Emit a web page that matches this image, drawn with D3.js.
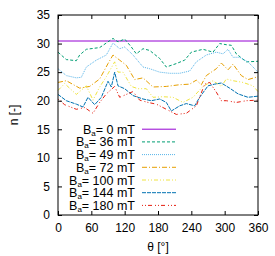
<!DOCTYPE html>
<html>
<head>
<meta charset="utf-8">
<script src="https://cdn.jsdelivr.net/npm/d3@7"></script>
<style>
  body { margin: 0; background: #fff; }
  text { font-family: "Liberation Sans", Arial, sans-serif; fill: #000; }
</style>
</head>
<body>
<div id="chart"></div>
<script>
"use strict";
// series values as [theta, n] pairs
const fields = [0, 36, 49, 72, 100, 144, 180];
const s0 = [[0, 30.45], [360, 30.45]];
const s36 = [[0, 28.5], [15, 27.2], [33, 27], [39, 28], [51, 29], [75, 29.3], [87, 30.1], [99, 30.9], [108, 30.3], [120, 30.8], [132, 29.4], [141, 28.2], [153, 29.1], [165, 28.8], [183, 27.4], [195, 25.9], [213, 26.5], [228, 27.1], [240, 28.5], [261, 29], [279, 28.5], [291, 30], [303, 29.8], [312, 29.7], [321, 28.2], [339, 26.8], [360, 26.9]];
const s49 = [[0, 25.6], [15, 24.4], [33, 24], [42, 24.1], [51, 25.9], [69, 27.1], [87, 28], [99, 30.1], [111, 29.1], [120, 29.4], [135, 28], [153, 25.9], [165, 25.6], [183, 25], [201, 24.8], [219, 24.8], [237, 25.2], [249, 26.8], [267, 28], [285, 28.5], [297, 28.2], [306, 29], [315, 27.6], [327, 27.6], [342, 26.8], [360, 25]];
const s72 = [[0, 23.2], [15, 23.5], [39, 22.2], [57, 22.5], [75, 23.8], [90, 26.5], [99, 28], [111, 27.1], [123, 26.2], [138, 23.7], [153, 24], [171, 22.4], [195, 22.5], [219, 22.8], [237, 22.9], [249, 23.6], [258, 22.8], [267, 24.4], [285, 25.6], [294, 26.6], [306, 25.4], [315, 26.4], [330, 24.4], [342, 23.7], [360, 24.2]];
const s100 = [[0, 21.8], [12, 23], [33, 21.1], [51, 22.6], [63, 20.1], [75, 22.4], [87, 24.2], [102, 26.8], [108, 25], [117, 25], [132, 22.5], [144, 22.1], [159, 22.1], [171, 20.6], [189, 20.7], [207, 20.6], [225, 19.7], [243, 20.6], [261, 22.5], [279, 23.5], [294, 22.5], [303, 23.8], [315, 23.5], [333, 23.2], [351, 22.6], [360, 21.6]];
const s144 = [[0, 21.1], [15, 20], [33, 19.4], [45, 18.9], [54, 20.6], [66, 19.3], [78, 20.6], [90, 23.4], [96, 22.4], [102, 25], [108, 22.6], [120, 22.1], [135, 20.9], [153, 20.3], [168, 20], [183, 20.3], [195, 19.7], [204, 18.2], [219, 19.1], [231, 19.5], [246, 19.1], [255, 20.6], [270, 22.6], [282, 22.9], [294, 23.1], [309, 22.2], [324, 21.2], [342, 20.6], [360, 20.8]];
const s180 = [[0, 20.3], [12, 19.3], [33, 18.5], [48, 18.8], [63, 17.8], [75, 19.7], [87, 21.2], [102, 22.5], [111, 20.6], [123, 21.1], [135, 21.6], [147, 20.1], [162, 19.7], [177, 19.4], [195, 18.5], [213, 17.6], [231, 17.8], [249, 19.1], [264, 22.9], [273, 23.2], [285, 21.5], [294, 20], [303, 20], [321, 19.7], [339, 20], [360, 20.1]];
const xTicks = [0, 60, 120, 180, 240, 300, 360];
const yTicks = [0, 5, 10, 15, 20, 25, 30, 35];

const series = [s0, s36, s49, s72, s100, s144, s180];
const colors = ["#9400d3", "#009e73", "#56b4e9", "#e69f00", "#f0e442", "#0072b2", "#e51e10"];
const dashes = [null, "3,2", "1,1", "5,2,1,2", "4,2,1,2,1,2", "4,1", "1,2,1,2,4,3"];

const width = 275, height = 256;
const margin = { top: 15, right: 17, bottom: 41, left: 58 };
const plotW = width - margin.left - margin.right;
const plotH = height - margin.top - margin.bottom;

const svg = d3.select("#chart").append("svg")
    .attr("width", width)
    .attr("height", height);

const x = d3.scaleLinear().domain([0, 360]).range([margin.left, margin.left + plotW]);
const y = d3.scaleLinear().domain([0, 35]).range([margin.top + plotH, margin.top]);

const plot = svg.append("g");

// lines
const line = d3.line().x(d => x(d[0])).y(d => y(d[1]));
plot.selectAll("path.series")
    .data(series)
    .enter()
    .append("path")
    .attr("class", "series")
    .attr("d", line)
    .attr("fill", "none")
    .attr("stroke", (d, i) => colors[i])
    .attr("stroke-width", 1)
    .attr("stroke-dasharray", (d, i) => dashes[i]);

// axes, ticks drawn inward on all four sides
const tickLen = 4;
svg.append("g")
    .attr("transform", `translate(0,${margin.top + plotH})`)
    .call(d3.axisBottom(x).tickValues(xTicks).tickSizeInner(-tickLen).tickSizeOuter(0).tickPadding(8))
    .call(g => g.select(".domain").remove());
svg.append("g")
    .attr("transform", `translate(0,${margin.top})`)
    .call(d3.axisTop(x).tickValues(xTicks).tickSizeInner(-tickLen).tickSizeOuter(0).tickFormat(""))
    .call(g => g.select(".domain").remove());
svg.append("g")
    .attr("transform", `translate(${margin.left},0)`)
    .call(d3.axisLeft(y).tickValues(yTicks).tickSizeInner(-tickLen).tickSizeOuter(0).tickPadding(8))
    .call(g => g.select(".domain").remove());
svg.append("g")
    .attr("transform", `translate(${margin.left + plotW},0)`)
    .call(d3.axisRight(y).tickValues(yTicks).tickSizeInner(-tickLen).tickSizeOuter(0).tickFormat(""))
    .call(g => g.select(".domain").remove());
svg.selectAll(".tick text")
    .attr("font-size", 12)
    .attr("font-family", "Liberation Sans, Arial, sans-serif");

svg.append("rect")
    .attr("x", margin.left)
    .attr("y", margin.top)
    .attr("width", plotW)
    .attr("height", plotH)
    .attr("fill", "none")
    .attr("stroke", "#000")
    .attr("stroke-width", 1);

// axis titles
svg.append("text")
    .attr("x", margin.left + plotW / 2)
    .attr("y", 251)
    .attr("text-anchor", "middle")
    .attr("font-size", 12)
    .text("θ [°]");
svg.append("text")
    .attr("transform", `translate(18,${margin.top + plotH / 2}) rotate(-90)`)
    .attr("text-anchor", "middle")
    .attr("font-size", 12)
    .text("n [-]");

// legend
const legendTop = 129.2;
const legendStep = 12.7;
const legendItem = svg.append("g")
    .selectAll("g")
    .data(fields)
    .enter()
    .append("g")
    .attr("transform", (d, i) => `translate(0,${legendTop + i * legendStep})`);
legendItem.append("line")
    .attr("x1", 142)
    .attr("x2", 176)
    .attr("stroke", d => colors[fields.indexOf(d)])
    .attr("stroke-width", 1)
    .attr("stroke-dasharray", d => dashes[fields.indexOf(d)]);
const legendText = legendItem.append("text")
    .attr("x", 135)
    .attr("y", 4.5)
    .attr("text-anchor", "end")
    .attr("font-size", 12.5);
legendText.append("tspan").text("B");
legendText.append("tspan").attr("font-size", 8).attr("dy", 2).text("a");
legendText.append("tspan").attr("dy", -2).text(d => `= ${d} mT`);
</script>
</body>
</html>
